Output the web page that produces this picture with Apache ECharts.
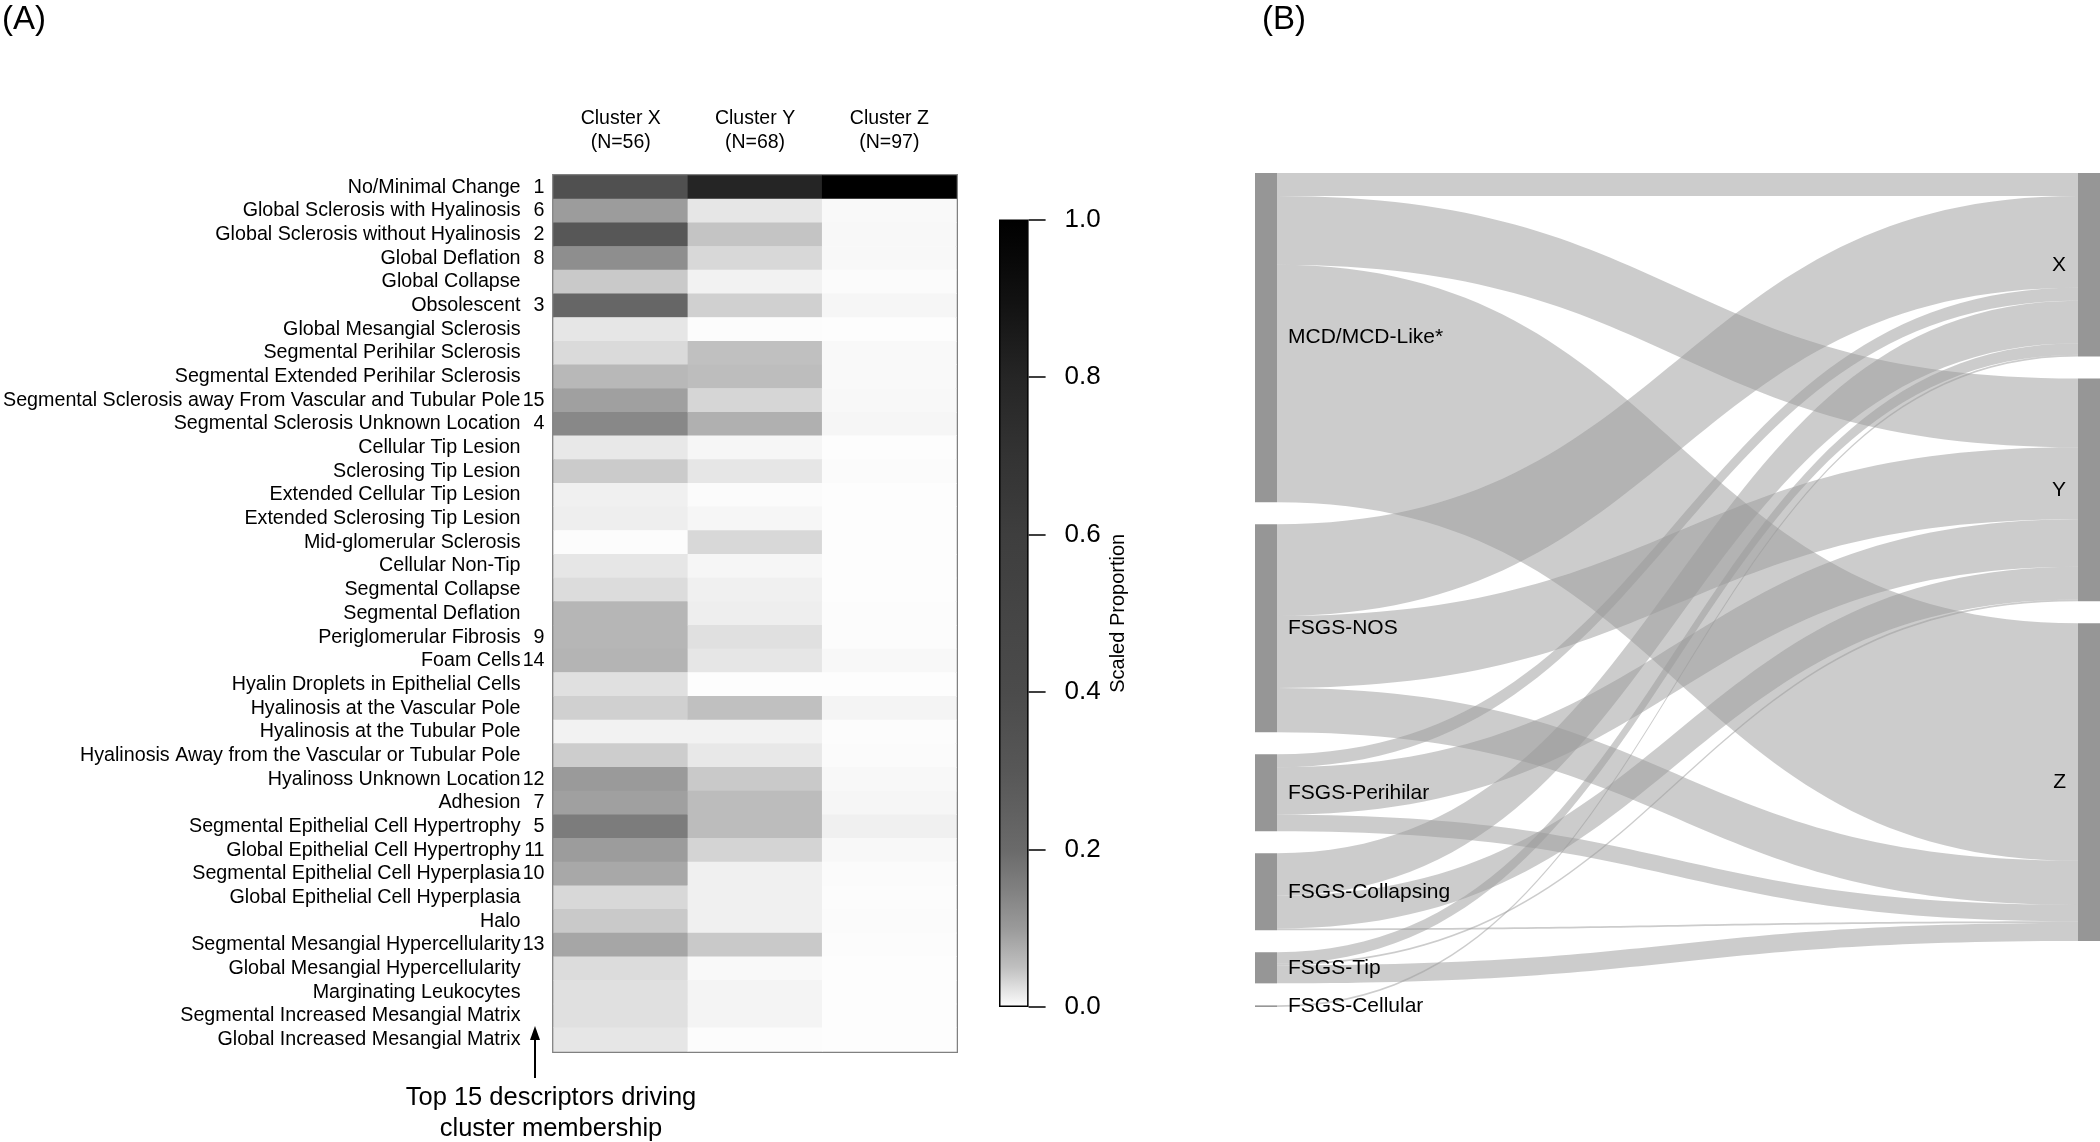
<!DOCTYPE html>
<html>
<head>
<meta charset="utf-8">
<script src="https://cdn.jsdelivr.net/npm/echarts@6/dist/echarts.min.js"></script>
<style>
html,body{margin:0;padding:0;background:#fff;}
#chart{width:2100px;height:1142px;}
</style>
</head>
<body>
<div id="chart"></div>
<script>
// ---------- Panel A data ----------
const clusterNames = ['Cluster X', 'Cluster Y', 'Cluster Z'];
const clusterN = [56, 68, 97];
const descriptors = [
  'No/Minimal Change', 'Global Sclerosis with Hyalinosis', 'Global Sclerosis without Hyalinosis',
  'Global Deflation', 'Global Collapse', 'Obsolescent', 'Global Mesangial Sclerosis',
  'Segmental Perihilar Sclerosis', 'Segmental Extended Perihilar Sclerosis',
  'Segmental Sclerosis away From Vascular and Tubular Pole', 'Segmental Sclerosis Unknown Location',
  'Cellular Tip Lesion', 'Sclerosing Tip Lesion', 'Extended Cellular Tip Lesion',
  'Extended Sclerosing Tip Lesion', 'Mid-glomerular Sclerosis', 'Cellular Non-Tip',
  'Segmental Collapse', 'Segmental Deflation', 'Periglomerular Fibrosis', 'Foam Cells',
  'Hyalin Droplets in Epithelial Cells', 'Hyalinosis at the Vascular Pole',
  'Hyalinosis at the Tubular Pole', 'Hyalinosis Away from the Vascular or Tubular Pole',
  'Hyalinoss Unknown Location', 'Adhesion', 'Segmental Epithelial Cell Hypertrophy',
  'Global Epithelial Cell Hypertrophy', 'Segmental Epithelial Cell Hyperplasia',
  'Global Epithelial Cell Hyperplasia', 'Halo', 'Segmental Mesangial Hypercellularity',
  'Global Mesangial Hypercellularity', 'Marginating Leukocytes',
  'Segmental Increased Mesangial Matrix', 'Global Increased Mesangial Matrix'
];
const rankLabels = ['1','6','2','8','','3','','','','15','4','','','','','','','','','9','14','','','','','12','7','5','11','10','','','13','','','',''];
const valuesX = [0.358,0.097,0.300,0.123,0.043,0.221,0.019,0.029,0.061,0.092,0.135,0.017,0.041,0.011,0.012,0.001,0.019,0.027,0.063,0.063,0.066,0.024,0.037,0.009,0.039,0.100,0.092,0.159,0.097,0.082,0.030,0.043,0.084,0.027,0.024,0.024,0.019];
const valuesY = [0.800,0.019,0.047,0.030,0.009,0.037,0.001,0.050,0.054,0.032,0.071,0.006,0.019,0.002,0.006,0.030,0.006,0.011,0.012,0.024,0.019,0.000,0.050,0.009,0.017,0.043,0.055,0.055,0.034,0.011,0.011,0.011,0.043,0.003,0.007,0.007,0.001];
const valuesZ = [1.000,0.003,0.004,0.004,0.002,0.006,0.000,0.003,0.003,0.004,0.006,0.000,0.002,0.000,0.000,0.000,0.000,0.000,0.001,0.001,0.004,0.000,0.007,0.001,0.002,0.004,0.006,0.011,0.004,0.002,0.001,0.002,0.001,0.000,0.000,0.000,0.000];
const colorTicks = [0, 0.2, 0.4, 0.6, 0.8, 1.0];

// ---------- Panel B data ----------
const sankeyNodes = ['MCD/MCD-Like*', 'FSGS-NOS', 'FSGS-Perihilar', 'FSGS-Collapsing', 'FSGS-Tip', 'FSGS-Cellular', 'X', 'Y', 'Z'];
const linkSource = ['MCD/MCD-Like*','MCD/MCD-Like*','MCD/MCD-Like*','FSGS-NOS','FSGS-NOS','FSGS-NOS','FSGS-Perihilar','FSGS-Perihilar','FSGS-Perihilar','FSGS-Collapsing','FSGS-Collapsing','FSGS-Collapsing','FSGS-Tip','FSGS-Tip','FSGS-Tip','FSGS-Cellular'];
const linkTarget = ['X','Y','Z','X','Y','Z','X','Y','Z','X','Y','Z','X','Y','Z','X'];
const linkValue  = [7, 21, 72.5, 28, 22, 13.5, 4, 14.5, 5, 13, 10, 0.5, 3.5, 0.5, 5.5, 0.5];

// ---------- styling ----------
const FONT = '"Liberation Sans", Arial, sans-serif';
// grey level at value 0, 0.05, 0.10, ... 1.0
const greyLevels = [253,192,154,128,106,96,87,81,75,72,69,65,62,56,51,44,37,27,17,8,0];
const toHex = g => { const h = Math.round(g).toString(16).padStart(2,'0'); return '#' + h + h + h; };
const greyColors = greyLevels.map(toHex);
const gradStops = greyColors.map((c, i) => ({ offset: i / (greyColors.length - 1), color: c }));

const heatData = [];
[valuesX, valuesY, valuesZ].forEach((arr, ci) => arr.forEach((v, ri) => heatData.push([ci, ri, v])));

const chart = echarts.init(document.getElementById('chart'), null, { renderer: 'canvas' });

const option = {
  backgroundColor: '#fff',
  animation: false,
  title: [
    { text: '(A)', left: 2, top: 3, padding: 0, textStyle: { fontFamily: FONT, fontSize: 33, fontWeight: 'normal', color: '#000' } },
    { text: '(B)', left: 1262, top: 3, padding: 0, textStyle: { fontFamily: FONT, fontSize: 33, fontWeight: 'normal', color: '#000' } }
  ],
  grid: [
    { left: 552, top: 175.4, width: 404.5, height: 876, show: true, borderColor: '#808080', borderWidth: 3, backgroundColor: 'transparent', containLabel: false },
    { left: 999, top: 219.6, width: 29.6, height: 787.4, containLabel: false }
  ],
  xAxis: [
    {
      gridIndex: 0, type: 'category', position: 'top', data: clusterNames,
      axisLine: { show: false }, axisTick: { show: false }, splitLine: { show: false },
      axisLabel: {
        interval: 0, margin: 21, fontFamily: FONT, fontSize: 19.5, color: '#000', lineHeight: 24,
        formatter: (v, i) => v + '\n(N=' + clusterN[i] + ')'
      }
    },
    {
      gridIndex: 1, type: 'category', data: ['bar'],
      axisLine: { show: false }, axisTick: { show: false }, axisLabel: { show: false }
    }
  ],
  yAxis: [
    {
      gridIndex: 0, type: 'category', data: descriptors, inverse: true,
      axisLine: { show: false }, axisTick: { show: false }, splitLine: { show: false },
      axisLabel: { interval: 0, margin: 33, fontFamily: FONT, fontSize: 19.7, color: '#000' }
    },
    {
      gridIndex: 0, type: 'category', data: descriptors, inverse: true, position: 'left', offset: 0,
      axisLine: { show: false }, axisTick: { show: false }, splitLine: { show: false },
      axisLabel: { interval: 0, margin: 9, fontFamily: FONT, fontSize: 19.7, color: '#000',
        formatter: (v, i) => rankLabels[i] }
    },
    {
      gridIndex: 1, type: 'value', min: 0, max: 1, interval: 0.2, position: 'right',
      axisLine: { show: false }, splitLine: { show: false },
      axisTick: { show: true, inside: false, length: 17, lineStyle: { color: '#000', width: 1.5 } },
      axisLabel: { margin: 36, fontFamily: FONT, fontSize: 26, color: '#000', formatter: v => v.toFixed(1) },
      name: 'Scaled Proportion', nameLocation: 'middle', nameRotate: 90, nameGap: 80,
      nameTextStyle: { fontFamily: FONT, fontSize: 20, color: '#000' }
    }
  ],
  visualMap: {
    type: 'continuous', show: false, min: 0, max: 1, seriesIndex: 0,
    inRange: { color: greyColors }
  },
  series: [
    {
      type: 'heatmap', xAxisIndex: 0, yAxisIndex: 0, data: heatData,
      itemStyle: { borderWidth: 0 },
      emphasis: { disabled: true }, silent: true
    },
    {
      type: 'bar', xAxisIndex: 1, yAxisIndex: 2, data: [colorTicks[colorTicks.length - 1]],
      barWidth: '100%', silent: true,
      itemStyle: {
        color: new echarts.graphic.LinearGradient(0, 1, 0, 0, gradStops),
        borderColor: '#000', borderWidth: 1.5
      }
    },
    {
      type: 'sankey', left: 1255, top: 173, right: 0, height: 834,
      nodeWidth: 22, nodeGap: 22, layoutIterations: 0, draggable: false, silent: true,
      nodeAlign: 'justify',
      emphasis: { disabled: true },
      data: sankeyNodes.map((n, i) => ({
        name: n,
        label: i < 6
          ? { position: 'right', distance: 11 }
          : { position: 'left', distance: 12 }
      })),
      links: linkSource.map((s, i) => ({ source: s, target: linkTarget[i], value: linkValue[i] })),
      itemStyle: { color: '#969696', borderWidth: 0 },
      lineStyle: { color: '#999', opacity: 0.5, curveness: 0.5 },
      label: { fontFamily: FONT, fontSize: 21, color: '#000' }
    }
  ],
  graphic: [
    { type: 'line', shape: { x1: 535, y1: 1078, x2: 535, y2: 1036 }, style: { stroke: '#000', lineWidth: 2 } },
    { type: 'polygon', shape: { points: [[535, 1026], [530, 1040], [540, 1040]] }, style: { fill: '#000' } },
    { type: 'text', x: 551, y: 1098, style: { text: 'Top 15 descriptors driving', fontFamily: FONT, fontSize: 25.5, fill: '#000', align: 'center', verticalAlign: 'middle' } },
    { type: 'text', x: 551, y: 1129, style: { text: 'cluster membership', fontFamily: FONT, fontSize: 25.5, fill: '#000', align: 'center', verticalAlign: 'middle' } }
  ]
};
chart.setOption(option);
</script>
</body>
</html>
